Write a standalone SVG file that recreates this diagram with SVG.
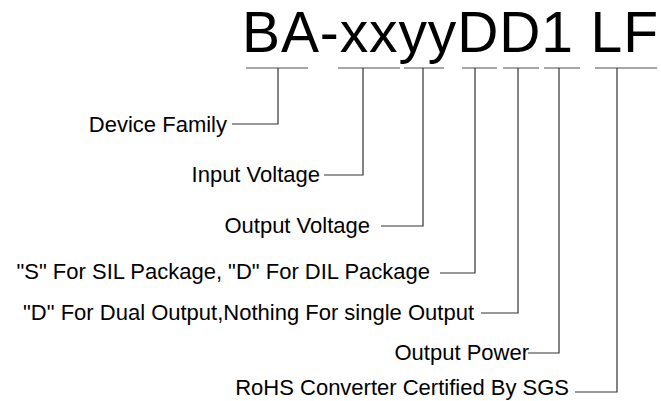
<svg xmlns="http://www.w3.org/2000/svg" width="661" height="401" viewBox="0 0 661 401">
<style>
.lbl{font-family:"Liberation Sans",Arial,sans-serif;font-size:22px;fill:#000;text-anchor:end}
.title{font-family:"Liberation Sans",Arial,sans-serif;font-size:57px;fill:#000}
.ul{stroke:#8a8a8a;stroke-width:1.3;fill:none}
.conn{stroke:#333;stroke-width:1.2;fill:none}
</style>
<rect width="661" height="401" fill="#fff"/>
<g id="title">
<text class="title" x="242" y="52" textLength="416" lengthAdjust="spacing">BA-xxyyDD1 LF</text>
</g>
<g id="underlines">
<line class="ul" x1="246" y1="68" x2="308" y2="68"/>
<line class="ul" x1="338" y1="68" x2="400" y2="68"/>
<line class="ul" x1="404" y1="68" x2="444" y2="68"/>
<line class="ul" x1="462" y1="68" x2="497" y2="68"/>
<line class="ul" x1="503" y1="68" x2="539" y2="68"/>
<line class="ul" x1="544" y1="68" x2="580" y2="68"/>
<line class="ul" x1="595" y1="68" x2="657" y2="68"/>
</g>
<g id="connectors">
<path class="conn" d="M278,68 V124 H232"/>
<path class="conn" d="M363,68 V175 H324"/>
<path class="conn" d="M423,68 V226 H381"/>
<path class="conn" d="M475,68 V273 H440"/>
<path class="conn" d="M518,68 V313 H481"/>
<path class="conn" d="M559,68 V353 H528"/>
<path class="conn" d="M617,68 V392 H575"/>
</g>
<g id="device-family"><text class="lbl" x="227" y="132">Device Family</text></g>
<g id="input-voltage"><text class="lbl" x="320" y="182">Input Voltage</text></g>
<g id="output-voltage"><text class="lbl" x="370" y="233">Output Voltage</text></g>
<g id="package"><text class="lbl" x="430" y="279">"S" For SIL Package, "D" For DIL Package</text></g>
<g id="dual-output"><text class="lbl" x="474" y="320">"D" For Dual Output,Nothing For single Output</text></g>
<g id="output-power"><text class="lbl" x="529" y="360">Output Power</text></g>
<g id="rohs"><text class="lbl" x="569" y="395">RoHS Converter Certified By SGS</text></g>
</svg>
